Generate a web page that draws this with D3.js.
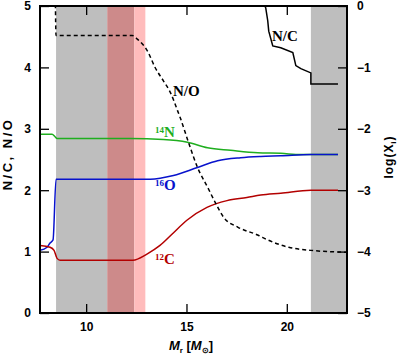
<!DOCTYPE html>
<html>
<head>
<meta charset="utf-8">
<script src="https://cdn.jsdelivr.net/npm/d3@7"></script>
<style>
  body { margin: 0; background: #fff; }
  text { font-family: "Liberation Sans", Arial, sans-serif; font-weight: bold; }
</style>
</head>
<body>
<div id="chart"></div>
<script>
const svgWidth = 399;
const svgHeight = 355;
const margin = { top: 6, bottom: 42, left: 40, right: 52 };

// shaded zones [from, to] in M_r
const grayZones = [[8.5, 11.05], [21.2, 23]];
const overlapZones = [[11.05, 12.4]];
const pinkZones = [[12.4, 12.95]];

// N/O and N/C on the left axis
const noRatio = [[8.45, 5.6], [8.5, 4.52], [12.3, 4.52], [12.55, 4.46], [13.05, 4.27], [13.45, 3.99],
    [13.85, 3.78], [14.2, 3.59], [14.55, 3.30], [14.7, 3.17], [15.1, 2.78], [15.55, 2.37], [16.05, 2.05],
    [16.45, 1.79], [16.85, 1.56], [17.55, 1.40], [18.55, 1.27], [19.05, 1.19], [20.1, 1.07], [21.2, 1.02], [23, 0.99]];
const ncRatio = [[18.85, 5.05], [18.95, 4.97], [19.05, 4.76], [19.1, 4.59], [19.3, 4.35], [19.7, 4.32],
    [20.3, 4.24], [20.45, 4.03], [20.7, 3.98], [21.2, 3.91], [21.2, 3.73], [22.55, 3.73]];

// log abundances on the right axis
const logN14 = [[7.7, -2.09], [8.3, -2.09], [8.45, -2.13], [8.55, -2.16], [12.2, -2.16], [13.85, -2.175],
    [15.05, -2.22], [16.05, -2.31], [17.2, -2.35], [18.55, -2.39], [19.7, -2.40], [20.7, -2.42], [22.55, -2.42]];
const logO16 = [[7.7, -3.98], [8.05, -3.93], [8.2, -3.86], [8.35, -3.81], [8.5, -2.82], [13.2, -2.82],
    [14.35, -2.76], [15.55, -2.63], [16.55, -2.52], [17.7, -2.47], [18.7, -2.45], [19.7, -2.44], [21.2, -2.42], [22.55, -2.42]];
const logC12 = [[7.7, -3.90], [8.2, -3.93], [8.4, -3.98], [8.55, -4.11], [8.7, -4.14], [12.33, -4.14],
    [13.03, -4.04], [13.68, -3.90], [14.33, -3.70], [15.02, -3.49], [16.02, -3.28], [17.02, -3.17],
    [18.01, -3.12], [18.7, -3.08], [19.7, -3.05], [21.2, -3.00], [22.55, -3.00]];

const xMajor = [10, 15, 20];
const xMinor = d3.range(8, 23.01, 1);
const leftMajor = [0, 1, 2, 3, 4, 5];
const leftMinor = d3.range(0, 5.01, 0.2);
const rightMajor = [-5, -4, -3, -2, -1, 0];
const rightMinor = d3.range(-5, 0.01, 0.2);

const svg = d3.select('#chart').append('svg')
    .attr('width', svgWidth)
    .attr('height', svgHeight);

const x = d3.scaleLinear().domain([7.7, 23]).range([margin.left, svgWidth - margin.right]);
const yL = d3.scaleLinear().domain([0, 5]).range([svgHeight - margin.bottom, margin.top]);
const yR = d3.scaleLinear().domain([-5, 0]).range([svgHeight - margin.bottom, margin.top]);

const x0 = x.range()[0], x1 = x.range()[1];
const yB = yL.range()[0], yT = yL.range()[1];

svg.append('clipPath').attr('id', 'plotClip')
  .append('rect')
    .attr('x', x0).attr('y', yT)
    .attr('width', x1 - x0).attr('height', yB - yT);

const plot = svg.append('g').attr('clip-path', 'url(#plotClip)');

// bands
function band(zones, color) {
    plot.selectAll(null)
        .data(zones)
        .enter()
        .append('rect')
        .attr('x', d => x(d[0]))
        .attr('width', d => x(d[1]) - x(d[0]))
        .attr('y', yT)
        .attr('height', yB - yT)
        .attr('fill', color);
}
band(grayZones, '#bebebe');
band(overlapZones, '#cd8a8a');
band(pinkZones, '#ffbcbc');

const lineR = d3.line().x(d => x(d[0])).y(d => yR(d[1])).curve(d3.curveMonotoneX);

plot.append('path').datum(logN14).attr('d', lineR)
    .attr('fill', 'none').attr('stroke', '#1fae1f').attr('stroke-width', 1.5);
plot.append('path').datum(logO16).attr('d', lineR)
    .attr('fill', 'none').attr('stroke', '#0812cc').attr('stroke-width', 1.5);
plot.append('path').datum(logC12).attr('d', lineR)
    .attr('fill', 'none').attr('stroke', '#b30000').attr('stroke-width', 1.5);

plot.append('path').datum(noRatio)
    .attr('d', d3.line().x(d => x(d[0])).y(d => yL(d[1])).curve(d3.curveMonotoneX))
    .attr('fill', 'none').attr('stroke', '#000').attr('stroke-width', 1.5)
    .attr('stroke-dasharray', '4,3');
plot.append('path').datum(ncRatio)
    .attr('d', d3.line().x(d => x(d[0])).y(d => yL(d[1])))
    .attr('fill', 'none').attr('stroke', '#000').attr('stroke-width', 1.5);

// axes, ticks pointing inward
function addAxis(axisFn, scale, major, minor, transform, pad, showLabels) {
    const g = svg.append('g').attr('transform', transform);
    g.call(axisFn(scale).tickValues(minor).tickSize(-5).tickFormat(''));
    g.call(axisFn(scale).tickValues(major).tickSize(-9).tickPadding(pad)
        .tickFormat(showLabels ? d3.format('d') : ''));
    g.selectAll('.domain').remove();
    g.selectAll('line').attr('stroke', '#000').attr('stroke-width', 1.3);
    g.selectAll('text').style('font-size', '12px').attr('fill', '#000');
    return g;
}
addAxis(d3.axisBottom, x, xMajor, xMinor, `translate(0,${yB})`, 9, true);
addAxis(d3.axisTop, x, xMajor, xMinor, `translate(0,${yT})`, 9, false);
addAxis(d3.axisLeft, yL, leftMajor, leftMinor, `translate(${x0},0)`, 9, true);
addAxis(d3.axisRight, yR, rightMajor, rightMinor, `translate(${x1},0)`, 10, true);

svg.append('rect')
    .attr('x', x0).attr('y', yT)
    .attr('width', x1 - x0).attr('height', yB - yT)
    .attr('fill', 'none').attr('stroke', '#000').attr('stroke-width', 2);

// axis titles
svg.append('text')
    .attr('transform', `translate(12, 154) rotate(-90)`)
    .attr('text-anchor', 'middle')
    .style('font-size', '13px')
    .style('letter-spacing', '2.5px')
    .text('N/C, N/O');

svg.append('text')
    .attr('transform', `translate(393, 157) rotate(-90)`)
    .attr('text-anchor', 'middle')
    .style('font-size', '12px')
    .style('letter-spacing', '1px')
    .html('log(X<tspan font-size="8px" dy="3">i</tspan><tspan dy="-3">)</tspan>');

const xt = svg.append('text')
    .attr('x', 191)
    .attr('y', 350)
    .attr('text-anchor', 'middle')
    .style('font-size', '13px');
xt.append('tspan').style('font-style', 'italic').text('M');
xt.append('tspan').attr('font-size', '8px').attr('dy', 3).text('r');
xt.append('tspan').attr('dy', -3).text(' [');
xt.append('tspan').style('font-style', 'italic').text('M');
xt.append('tspan').attr('font-size', '8px').attr('dy', 3).text('⊙');
xt.append('tspan').attr('dy', -3).text(']');

// curve labels
function curveLabel(px, py, sup, main, color) {
    const t = svg.append('text')
        .attr('x', px).attr('y', py)
        .attr('fill', color)
        .style('font-family', '"Liberation Serif", "Times New Roman", serif')
        .style('font-size', '15px');
    if (sup) {
        t.append('tspan').attr('font-size', '9px').attr('dy', -4).text(sup);
        t.append('tspan').attr('dy', 4).text(main);
    } else {
        t.text(main);
    }
}
curveLabel(155, 137, '14', 'N', '#1fae1f');
curveLabel(155, 190, '16', 'O', '#0812cc');
curveLabel(155, 264, '12', 'C', '#b30000');
curveLabel(173, 96, null, 'N/O', '#000');
curveLabel(272, 41, null, 'N/C', '#000');
</script>
</body>
</html>
